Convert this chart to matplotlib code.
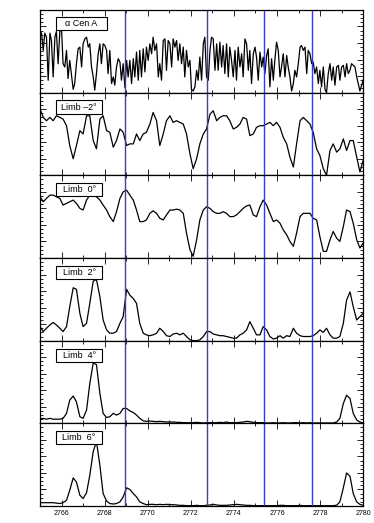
import numpy as np
import matplotlib.pyplot as plt
from matplotlib.patches import Rectangle
from matplotlib.ticker import MultipleLocator

# Wavelength grids [Angstrom]
wave_fine = [
    2765.00, 2765.07, 2765.15, 2765.22, 2765.30, 2765.38, 2765.46, 2765.53, 2765.61, 2765.69,
    2765.76, 2765.84, 2765.92, 2766.00, 2766.07, 2766.15, 2766.23, 2766.30, 2766.38, 2766.46,
    2766.54, 2766.61, 2766.69, 2766.77, 2766.85, 2766.93, 2767.00, 2767.08, 2767.16, 2767.24,
    2767.31, 2767.39, 2767.47, 2767.54, 2767.62, 2767.70, 2767.78, 2767.85, 2767.93, 2768.01,
    2768.09, 2768.16, 2768.24, 2768.32, 2768.40, 2768.47, 2768.55, 2768.63, 2768.71, 2768.78,
    2768.86, 2768.94, 2769.02, 2769.09, 2769.17, 2769.25, 2769.33, 2769.40, 2769.48, 2769.56,
    2769.63, 2769.71, 2769.79, 2769.87, 2769.94, 2770.02, 2770.10, 2770.18, 2770.25, 2770.33,
    2770.41, 2770.49, 2770.56, 2770.64, 2770.72, 2770.80, 2770.87, 2770.95, 2771.03, 2771.11,
    2771.18, 2771.26, 2771.34, 2771.41, 2771.49, 2771.57, 2771.65, 2771.72, 2771.80, 2771.88,
    2771.96, 2772.03, 2772.11, 2772.19, 2772.27, 2772.34, 2772.42, 2772.50, 2772.58, 2772.65,
    2772.73, 2772.81, 2772.89, 2772.96, 2773.04, 2773.12, 2773.20, 2773.27, 2773.35, 2773.43,
    2773.50, 2773.58, 2773.66, 2773.74, 2773.81, 2773.89, 2773.97, 2774.05, 2774.12, 2774.20,
    2774.28, 2774.36, 2774.43, 2774.51, 2774.59, 2774.67, 2774.74, 2774.82, 2774.90, 2774.98,
    2775.05, 2775.13, 2775.21, 2775.29, 2775.36, 2775.44, 2775.52, 2775.59, 2775.67, 2775.75,
    2775.83, 2775.90, 2775.98, 2776.06, 2776.14, 2776.21, 2776.29, 2776.37, 2776.45, 2776.52,
    2776.60, 2776.68, 2776.76, 2776.83, 2776.91, 2776.99, 2777.07, 2777.14, 2777.22, 2777.30,
    2777.38, 2777.45, 2777.53, 2777.61, 2777.68, 2777.76, 2777.84, 2777.92, 2777.99, 2778.07,
    2778.15, 2778.23, 2778.30, 2778.38, 2778.46, 2778.54, 2778.61, 2778.69, 2778.77, 2778.85,
    2778.92, 2779.00, 2779.08, 2779.16, 2779.23, 2779.31, 2779.39, 2779.46, 2779.54, 2779.62,
    2779.70, 2779.77, 2779.85, 2779.93, 2780.00,
]

wave = [
    2765.00, 2765.15, 2765.30, 2765.46, 2765.61, 2765.76, 2765.92, 2766.07, 2766.23, 2766.38,
    2766.54, 2766.69, 2766.85, 2767.00, 2767.16, 2767.31, 2767.47, 2767.62, 2767.78, 2767.93,
    2768.09, 2768.24, 2768.40, 2768.55, 2768.71, 2768.86, 2769.02, 2769.17, 2769.33, 2769.48,
    2769.63, 2769.79, 2769.94, 2770.10, 2770.25, 2770.41, 2770.56, 2770.72, 2770.87, 2771.03,
    2771.18, 2771.34, 2771.49, 2771.65, 2771.80, 2771.96, 2772.11, 2772.27, 2772.42, 2772.58,
    2772.73, 2772.89, 2773.04, 2773.20, 2773.35, 2773.50, 2773.66, 2773.81, 2773.97, 2774.12,
    2774.28, 2774.43, 2774.59, 2774.74, 2774.90, 2775.05, 2775.21, 2775.36, 2775.52, 2775.67,
    2775.83, 2775.98, 2776.14, 2776.29, 2776.45, 2776.60, 2776.76, 2776.91, 2777.07, 2777.22,
    2777.38, 2777.53, 2777.68, 2777.84, 2777.99, 2778.15, 2778.30, 2778.46, 2778.61, 2778.77,
    2778.92, 2779.08, 2779.23, 2779.39, 2779.54, 2779.70, 2779.85, 2780.00,
]

# Relative intensities (normalised to panel height)
flux_cen = [
    0.74, 0.72, 0.51, 0.72, 0.67, 0.15, 0.72, 0.63, 0.19, 0.67,
    0.74, 0.35, 0.74, 0.76, 0.35, 0.31, 0.51, 0.17, 0.39, 0.21,
    0.04, 0.11, 0.35, 0.53, 0.55, 0.31, 0.59, 0.65, 0.67, 0.55,
    0.59, 0.31, 0.19, 0.03, 0.23, 0.47, 0.59, 0.35, 0.59, 0.57,
    0.51, 0.23, 0.51, 0.11, 0.19, 0.09, 0.31, 0.41, 0.37, 0.15,
    0.35, 0.06, 0.39, 0.19, 0.39, 0.11, 0.41, 0.19, 0.49, 0.15,
    0.51, 0.19, 0.53, 0.25, 0.55, 0.39, 0.59, 0.47, 0.67, 0.51,
    0.59, 0.19, 0.35, 0.15, 0.63, 0.65, 0.27, 0.63, 0.59, 0.31,
    0.65, 0.55, 0.63, 0.39, 0.59, 0.35, 0.55, 0.19, 0.51, 0.31,
    0.39, 0.04, 0.02, 0.07, 0.27, 0.15, 0.43, 0.15, 0.59, 0.67,
    0.19, 0.15, 0.51, 0.67, 0.65, 0.27, 0.59, 0.27, 0.61, 0.31,
    0.57, 0.23, 0.59, 0.19, 0.55, 0.39, 0.19, 0.51, 0.15, 0.55,
    0.31, 0.47, 0.19, 0.65, 0.59, 0.27, 0.51, 0.11, 0.47, 0.55,
    0.43, 0.15, 0.49, 0.31, 0.43, 0.23, 0.45, 0.53, 0.07, 0.41,
    0.15, 0.39, 0.61, 0.51, 0.19, 0.31, 0.47, 0.19, 0.45, 0.31,
    0.19, 0.02, 0.11, 0.27, 0.19, 0.35, 0.55, 0.57, 0.51, 0.55,
    0.23, 0.51, 0.47, 0.35, 0.37, 0.23, 0.31, 0.11, 0.27, 0.07,
    0.31, 0.04, 0.00, 0.23, 0.35, 0.15, 0.31, 0.09, 0.31, 0.33,
    0.15, 0.31, 0.33, 0.19, 0.35, 0.23, 0.27, 0.35, 0.33, 0.31,
    0.19, 0.11, 0.02, 0.09, 0.15,
]

flux_m2 = [
    0.80, 0.70, 0.66, 0.70, 0.66, 0.72, 0.70, 0.68, 0.60, 0.36,
    0.20, 0.36, 0.54, 0.50, 0.72, 0.72, 0.42, 0.32, 0.68, 0.72,
    0.54, 0.52, 0.34, 0.42, 0.56, 0.52, 0.36, 0.38, 0.38, 0.50,
    0.42, 0.50, 0.52, 0.62, 0.76, 0.66, 0.36, 0.50, 0.66, 0.72,
    0.64, 0.66, 0.64, 0.62, 0.50, 0.26, 0.08, 0.20, 0.38, 0.50,
    0.56, 0.74, 0.78, 0.66, 0.70, 0.72, 0.72, 0.66, 0.56, 0.58,
    0.62, 0.70, 0.68, 0.48, 0.50, 0.58, 0.60, 0.60, 0.62, 0.64,
    0.60, 0.64, 0.58, 0.46, 0.38, 0.22, 0.10, 0.38, 0.66, 0.70,
    0.66, 0.62, 0.52, 0.32, 0.24, 0.08, 0.00, 0.30, 0.38, 0.28,
    0.32, 0.44, 0.30, 0.42, 0.42, 0.22, 0.04, 0.18,
]

flux_0 = [
    0.74, 0.68, 0.72, 0.76, 0.76, 0.74, 0.72, 0.64, 0.66, 0.68,
    0.70, 0.66, 0.60, 0.58, 0.70, 0.76, 0.76, 0.74, 0.70, 0.64,
    0.58, 0.50, 0.44, 0.56, 0.72, 0.80, 0.82, 0.76, 0.70, 0.58,
    0.44, 0.44, 0.46, 0.54, 0.57, 0.54, 0.48, 0.46, 0.52, 0.58,
    0.58, 0.59, 0.58, 0.54, 0.30, 0.10, 0.02, 0.22, 0.46, 0.58,
    0.62, 0.60, 0.56, 0.54, 0.54, 0.56, 0.54, 0.50, 0.50, 0.52,
    0.56, 0.60, 0.63, 0.64, 0.52, 0.50, 0.62, 0.70, 0.64, 0.54,
    0.44, 0.46, 0.42, 0.34, 0.28, 0.20, 0.14, 0.30, 0.50, 0.54,
    0.54, 0.54, 0.48, 0.46, 0.26, 0.08, 0.08, 0.22, 0.32, 0.24,
    0.20, 0.38, 0.58, 0.56, 0.42, 0.22, 0.12, 0.18,
]

flux_2 = [
    0.17, 0.11, 0.15, 0.19, 0.22, 0.19, 0.15, 0.11, 0.17, 0.41,
    0.64, 0.62, 0.33, 0.17, 0.21, 0.45, 0.72, 0.74, 0.53, 0.25,
    0.13, 0.09, 0.09, 0.11, 0.21, 0.29, 0.62, 0.55, 0.51, 0.45,
    0.21, 0.09, 0.07, 0.06, 0.07, 0.09, 0.15, 0.11, 0.06, 0.05,
    0.08, 0.09, 0.07, 0.09, 0.05, 0.01, 0.00, 0.00, 0.01, 0.05,
    0.11, 0.11, 0.08, 0.07, 0.06, 0.06, 0.05, 0.04, 0.03, 0.03,
    0.07, 0.09, 0.13, 0.23, 0.15, 0.07, 0.07, 0.17, 0.13, 0.05,
    0.02, 0.03, 0.06, 0.03, 0.06, 0.05, 0.15, 0.09, 0.06, 0.05,
    0.05, 0.05, 0.06, 0.09, 0.13, 0.10, 0.15, 0.07, 0.03, 0.03,
    0.05, 0.21, 0.49, 0.59, 0.41, 0.25, 0.29, 0.33,
]

flux_4 = [
    0.05, 0.06, 0.05, 0.06, 0.05, 0.05, 0.05, 0.06, 0.12, 0.28,
    0.33, 0.26, 0.08, 0.06, 0.16, 0.48, 0.73, 0.71, 0.36, 0.12,
    0.07, 0.08, 0.12, 0.10, 0.12, 0.18, 0.18, 0.15, 0.13, 0.10,
    0.06, 0.03, 0.024, 0.028, 0.024, 0.02, 0.024, 0.02, 0.016, 0.016,
    0.016, 0.012, 0.012, 0.008, 0.008, 0.008, 0.008, 0.012, 0.008, 0.004,
    0.008, 0.008, 0.008, 0.008, 0.012, 0.008, 0.016, 0.008, 0.008, 0.008,
    0.012, 0.016, 0.024, 0.02, 0.012, 0.008, 0.008, 0.008, 0.004, 0.004,
    0.008, 0.004, 0.004, 0.008, 0.004, 0.004, 0.008, 0.008, 0.004, 0.008,
    0.004, 0.008, 0.004, 0.004, 0.004, 0.004, 0.004, 0.004, 0.004, 0.016,
    0.06, 0.24, 0.34, 0.30, 0.12, 0.04, 0.016, 0.004,
]

flux_6 = [
    0.04, 0.04, 0.04, 0.04, 0.04, 0.035, 0.03, 0.04, 0.07, 0.19,
    0.34, 0.29, 0.13, 0.09, 0.16, 0.37, 0.66, 0.78, 0.49, 0.15,
    0.06, 0.03, 0.024, 0.03, 0.05, 0.11, 0.22, 0.20, 0.15, 0.11,
    0.05, 0.03, 0.016, 0.02, 0.02, 0.016, 0.02, 0.016, 0.02, 0.016,
    0.016, 0.012, 0.008, 0.008, 0.004, 0.004, 0.004, 0.008, 0.004, 0.004,
    0.008, 0.012, 0.02, 0.012, 0.008, 0.008, 0.008, 0.012, 0.016, 0.02,
    0.016, 0.012, 0.008, 0.008, 0.004, 0.004, 0.004, 0.004, 0.004, 0.004,
    0.004, 0.004, 0.008, 0.008, 0.004, 0.004, 0.004, 0.004, 0.008, 0.004,
    0.004, 0.004, 0.004, 0.004, 0.004, 0.004, 0.004, 0.004, 0.004, 0.01,
    0.05, 0.22, 0.40, 0.36, 0.15, 0.05, 0.02, 0.008,
]

labels = ["\u03b1 Cen A", "Limb \u20132\u00b0", "Limb  0\u00b0",
          "Limb  2\u00b0", "Limb  4\u00b0", "Limb  6\u00b0"]
line_waves = [2768.94, 2772.74, 2775.38, 2777.63]

panels = [(wave_fine, flux_cen), (wave, flux_m2), (wave, flux_0),
          (wave, flux_2), (wave, flux_4), (wave, flux_6)]

plt.rcParams['font.family'] = ['Liberation Sans', 'DejaVu Sans']

fig, axes = plt.subplots(6, 1, figsize=(3.74, 5.23), dpi=100, sharex=True)
fig.subplots_adjust(left=0.107, right=0.971, top=0.981, bottom=0.0325, hspace=0)

for i, ax in enumerate(axes):
    x, y = panels[i]
    ax.plot(x, y, color='black', lw=0.9)
    for w in line_waves:
        ax.axvline(w, color='#3c3cc8', lw=1.0)
    ax.set_xlim(2765, 2780)
    ax.set_ylim(0, 1)

    # label box
    bw = 0.155 if i == 0 else 0.14
    top = 0.92 if i == 0 else 0.905
    bh = 0.16
    ax.add_patch(Rectangle((0.051, top - bh), bw, bh, transform=ax.transAxes,
                           facecolor='white', edgecolor='black', lw=0.8, zorder=5))
    ax.text(0.051 + bw / 2, top - bh / 2, labels[i], transform=ax.transAxes,
            ha='center', va='center', fontsize=6.5, zorder=6)

    ax.xaxis.set_major_locator(MultipleLocator(2))
    ax.xaxis.set_minor_locator(MultipleLocator(1))
    ax.yaxis.set_major_locator(MultipleLocator(0.2))
    ax.yaxis.set_minor_locator(MultipleLocator(0.05))
    ax.tick_params(which='both', direction='in', top=True, right=True,
                   labelleft=False, width=0.6)
    ax.tick_params(which='major', length=4)
    ax.tick_params(which='minor', length=2)
    for s in ax.spines.values():
        s.set_linewidth(0.9)

axes[-1].tick_params(axis='x', labelsize=5, pad=3)
for lab in axes[-1].get_xticklabels():
    lab.set_family(['Liberation Sans Narrow', 'Liberation Sans'])

fig.savefig('out.png', dpi=100)
